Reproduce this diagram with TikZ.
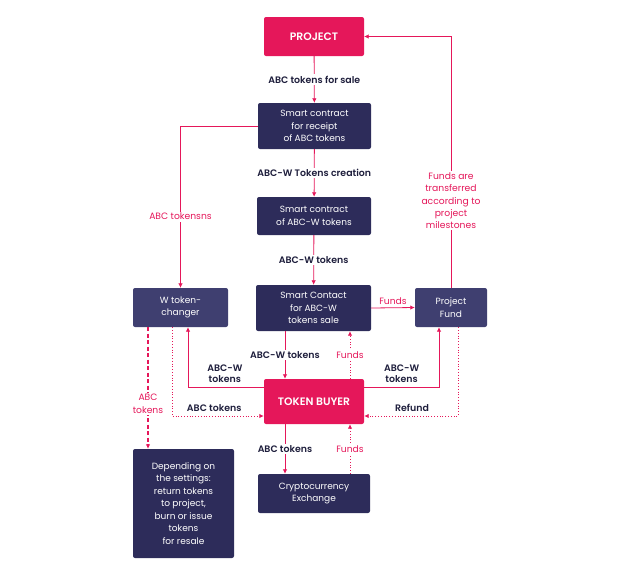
\documentclass[tikz,border=0pt]{standalone}
\usepackage{fontspec}
\setmainfont{Poppins}[BoldFont={Poppins SemiBold}]
\usetikzlibrary{arrows.meta,positioning,calc}
\definecolor{pinkc}{HTML}{E5175A}
\definecolor{navy}{HTML}{2D2C5A}
\definecolor{navyl}{HTML}{3F3F70}
\definecolor{labc}{HTML}{1E1E3C}
\begin{document}
\begin{tikzpicture}[x=1pt,y=-1pt,
  box/.style={rectangle,rounded corners=2pt,fill=navy,text=white,align=center,
     font=\fontsize{9}{12.5}\selectfont,inner sep=0pt},
  lbox/.style={box,fill=navyl},
  pbox/.style={box,fill=pinkc,font=\fontsize{10.8}{12}\selectfont\bfseries},
  arr/.style={draw=pinkc,line width=0.8pt,-{Latex[length=4.5pt,width=4.5pt]}},
  dot/.style={arr,dotted,line width=1pt},
  dsh/.style={arr,dash pattern=on 4pt off 2.5pt,line width=1.4pt},
  blab/.style={font=\fontsize{9.4}{11}\selectfont\bfseries,text=labc,fill=white,align=center,inner sep=1.5pt},
  plab/.style={font=\fontsize{9.2}{12.3}\selectfont,text=pinkc,fill=white,align=center,inner sep=1.5pt}
]
\useasboundingbox (0,0) rectangle (635,566);
\node[pbox,minimum width=100pt,minimum height=39pt] (project) at (314,36.5) {PROJECT};
\node[box,minimum width=113pt,minimum height=46pt] (sc1) at (314.5,126) {Smart contract\\for receipt\\of ABC tokens};
\node[box,minimum width=114pt,minimum height=38pt] (sc2) at (314,216) {Smart contract\\of ABC-W tokens};
\node[box,minimum width=115pt,minimum height=46pt] (sc3) at (313.5,308) {Smart Contact\\for ABC-W\\tokens sale};
\node[lbox,minimum width=95pt,minimum height=39pt] (wtc) at (180.5,307.5) {W token-\\changer};
\node[lbox,minimum width=72pt,minimum height=39pt] (pf) at (451,307.5) {Project\\Fund};
\node[pbox,minimum width=100pt,minimum height=45pt] (tb) at (314,401.5) {TOKEN BUYER};
\node[box,minimum width=112pt,minimum height=39pt] (crypto) at (314,493.5) {Cryptocurrency\\Exchange};
\node[box,minimum width=101pt,minimum height=109pt] (dep) at (183.5,503.5) {Depending on\\the settings:\\return tokens\\to project,\\burn or issue\\tokens\\for resale};

% main vertical chain
\draw[arr] (project) -- node[blab] {ABC tokens for sale} (sc1);
\draw[arr] (sc1) -- node[blab] {ABC-W Tokens creation} (sc2);
\draw[arr] (sc2) -- node[blab] {ABC-W tokens} (sc3);

% sc1 -> wtc
\draw[arr,line width=0.6pt] (sc1.west) -| node[plab,pos=0.78] {ABC tokensns} (wtc.north);
% pf -> project
\draw[arr,line width=0.6pt] (pf.north) |- node[plab,pos=0.173] {Funds are\\transferred\\according to\\project\\milestones} (project.east);
% sc3 -> pf
\draw[arr] (sc3.east) -- node[plab,above=1pt,fill=none] {Funds} (pf.west);
% sc3 -> tb
\draw[arr] ([xshift=-28.5pt]sc3.south) -- node[blab] {ABC-W tokens} ([xshift=-29pt]tb.north);
% tb -> sc3
\draw[dot] ([xshift=36pt]tb.north) -- node[plab] {Funds} ([xshift=36.5pt]sc3.south);
% tb -> wtc
\draw[arr] ([yshift=14.5pt]tb.west) -| node[blab,pos=0.257,above=3pt,fill=none] {ABC-W\\tokens} ([xshift=7.5pt]wtc.south);
% tb -> pf
\draw[arr] ([yshift=14.5pt]tb.east) -| node[blab,pos=0.25,above=3pt,fill=none] {ABC-W\\tokens} ([xshift=-12pt]pf.south);
% wtc -> tb
\draw[dot] ([xshift=-8.5pt]wtc.south) |- node[blab,pos=0.73,above=2pt,fill=none] {ABC tokens} ([yshift=-14.5pt]tb.west);
% pf -> tb
\draw[dot] ([xshift=7pt]pf.south) |- node[blab,pos=0.745,above=2pt,fill=none] {Refund} ([yshift=-14.5pt]tb.east);
% wtc -> dep
\draw[dsh] ([xshift=-32.5pt]wtc.south) -- node[plab,pos=0.63] {ABC\\tokens} ([xshift=-35.5pt]dep.north);
% tb -> crypto
\draw[arr] ([xshift=-29pt]tb.south) -- node[blab] {ABC tokens} ([xshift=-29pt]crypto.north);
% crypto -> tb
\draw[dot] ([xshift=36pt]crypto.north) -- node[plab] {Funds} ([xshift=36pt]tb.south);
\end{tikzpicture}
\end{document}
